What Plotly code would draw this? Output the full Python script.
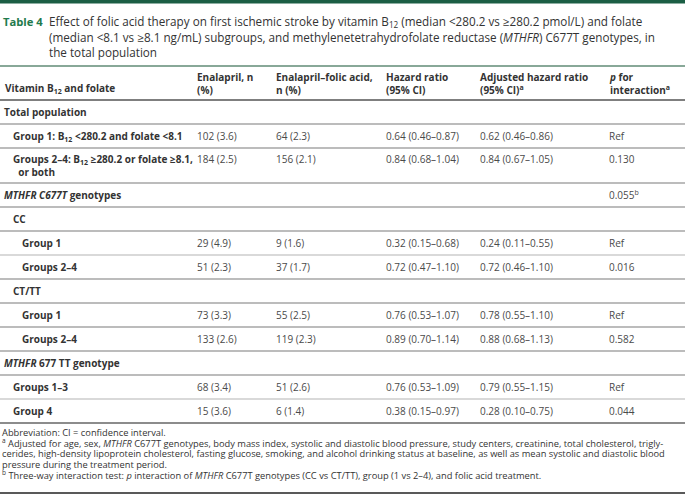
import plotly.graph_objects as go

W, H = 685, 498

# ---------------- data ----------------
title_label = "Table 4"
title_lines = [
    "Effect of folic acid therapy on first ischemic stroke by vitamin B<sub>12</sub> (median &lt;280.2 vs ≥280.2 pmol/L) and folate",
    "(median &lt;8.1 vs ≥8.1 ng/mL) subgroups, and methylenetetrahydrofolate reductase (<i>MTHFR</i>) C677T genotypes, in",
    "the total population",
]
col_headers = [
    "Vitamin B<sub>12</sub> and folate",
    "Enalapril, n<br>(%)",
    "Enalapril–folic acid,<br>n (%)",
    "Hazard ratio<br>(95% CI)",
    "Adjusted hazard ratio<br>(95% CI)<sup>a</sup>",
    "<i>p</i> for<br>interaction<sup>a</sup>",
]
row_labels = [
    "Total population",
    "Group 1: B<sub>12</sub> &lt;280.2 and folate &lt;8.1",
    "Groups 2–4: B<sub>12</sub> ≥280.2 or folate ≥8.1,<br>\u00a0\u00a0or both",
    "<i>MTHFR C677T</i> genotypes",
    "CC",
    "Group 1",
    "Groups 2–4",
    "CT/TT",
    "Group 1",
    "Groups 2–4",
    "<i>MTHFR</i> 677 TT genotype",
    "Groups 1–3",
    "Group 4",
]
row_levels = [0, 1, 1, 0, 1, 2, 2, 1, 2, 2, 0, 1, 1]
row_lines = [1, 1, 2, 1, 1, 1, 1, 1, 1, 1, 1, 1, 1]
enalapril = ["", "102 (3.6)", "184 (2.5)", "", "", "29 (4.9)", "51 (2.3)", "", "73 (3.3)", "133 (2.6)", "", "68 (3.4)", "15 (3.6)"]
enalapril_fa = ["", "64 (2.3)", "156 (2.1)", "", "", "9 (1.6)", "37 (1.7)", "", "55 (2.5)", "119 (2.3)", "", "51 (2.6)", "6 (1.4)"]
hazard_ratio = ["", "0.64 (0.46–0.87)", "0.84 (0.68–1.04)", "", "", "0.32 (0.15–0.68)", "0.72 (0.47–1.10)", "",
                "0.76 (0.53–1.07)", "0.89 (0.70–1.14)", "", "0.76 (0.53–1.09)", "0.38 (0.15–0.97)"]
adj_hazard_ratio = ["", "0.62 (0.46–0.86)", "0.84 (0.67–1.05)", "", "", "0.24 (0.11–0.55)", "0.72 (0.46–1.10)", "",
                    "0.78 (0.55–1.10)", "0.88 (0.68–1.13)", "", "0.79 (0.55–1.15)", "0.28 (0.10–0.75)"]
p_interaction = ["", "Ref", "0.130", "0.055<sup>b</sup>", "", "Ref", "0.016", "", "Ref", "0.582", "", "Ref", "0.044"]
footnotes = [
    "Abbreviation: CI = confidence interval.",
    "<sup>a</sup> Adjusted for age, sex, <i>MTHFR</i> C677T genotypes, body mass index, systolic and diastolic blood pressure, study centers, creatinine, total cholesterol, trigly-",
    "cerides, high-density lipoprotein cholesterol, fasting glucose, smoking, and alcohol drinking status at baseline, as well as mean systolic and diastolic blood",
    "pressure during the treatment period.",
    "<sup>b</sup> Three-way interaction test: <i>p</i> interaction of <i>MTHFR</i> C677T genotypes (CC vs CT/TT), group (1 vs 2–4), and folic acid treatment.",
]

# ---------------- layout constants ----------------
FONT = "Open Sans"
GREEN = "#1f7a4d"
DARKGREEN = "#1b5e44"
TEXT = "#333333"
VAL = "#4a4a4a"
col_x = [3, 195, 274, 384, 478, 607]
indent_x = [2, 11, 20]
header_bottom = 100
single_h, line_extra = 24, 11
light_after = {6, 12}  # separators above these row indices are light

fig = go.Figure()
ann = []
shapes = []

def add_text(x, y, text, size=10, color=TEXT, bold=False, yanchor="middle", family=FONT):
    ann.append(dict(x=x, y=y, xref="x", yref="y", text=(f"<b>{text}</b>" if bold else text),
                    showarrow=False, xanchor="left", yanchor=yanchor, align="left",
                    font=dict(family=family, size=size, color=color)))

def hline(y, color, width):
    shapes.append(dict(type="line", xref="x", yref="y", x0=0, x1=W, y0=y, y1=y,
                       line=dict(color=color, width=width)))

# top bar
shapes.append(dict(type="rect", xref="x", yref="y", x0=0, x1=W, y0=0, y1=3.5,
                   fillcolor=DARKGREEN, line=dict(width=0)))

# title
add_text(1, 21, title_label, size=11.2, color=GREEN, bold=True)
for i, t in enumerate(title_lines):
    add_text(47, 21 + i * 15.5, t, size=11.7, color="#333333")
hline(66, "#88a898", 1.8)

# header
for j, h in enumerate(col_headers):
    yy = 88 if "<br>" not in h else 83.5
    add_text(col_x[j], yy, h, size=10, color=TEXT, bold=True)
hline(header_bottom, "#555555", 1.6)

# body rows
y = header_bottom
columns = [enalapril, enalapril_fa, hazard_ratio, adj_hazard_ratio, p_interaction]
for i, lab in enumerate(row_labels):
    h = single_h + (row_lines[i] - 1) * line_extra
    yc = y + h / 2
    add_text(indent_x[row_levels[i]], yc, lab, size=10, color=TEXT, bold=True)
    for j, col in enumerate(columns):
        if col[i]:
            yy = yc if row_lines[i] == 1 else y + 11
            add_text(col_x[j + 1], yy, col[i], size=10, color=VAL)
    if i > 0:
        if i in light_after:
            hline(y, "#cccccc", 1.4)
        else:
            hline(y, "#7a7a7a", 1.1)
    y += h
table_bottom = y
hline(table_bottom, "#666666", 1.4)

# footnotes
for k, f in enumerate(footnotes):
    add_text(0, table_bottom + 9 + k * 10.7, f, size=9.3, color="#333333")
hline(493, "#222222", 1.6)

fig.update_layout(
    width=W, height=H, margin=dict(l=0, r=0, t=0, b=0),
    paper_bgcolor="white", plot_bgcolor="white",
    xaxis=dict(range=[0, W], visible=False, fixedrange=True),
    yaxis=dict(range=[H, 0], visible=False, fixedrange=True),
    annotations=ann, shapes=shapes, showlegend=False,
)
fig.write_html("out.html", config={"displayModeBar": False},
               post_script="document.body.style.margin='0';")
